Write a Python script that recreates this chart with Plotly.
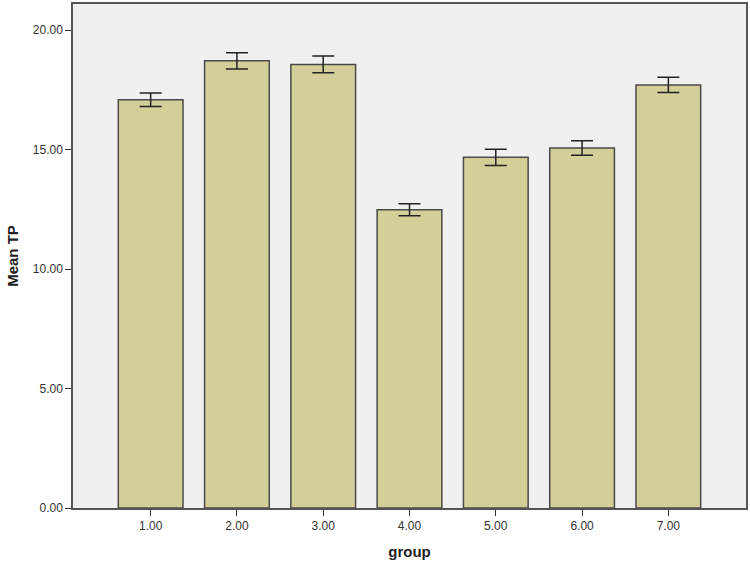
import plotly.graph_objects as go

groups = [1, 2, 3, 4, 5, 6, 7]
group_labels = ["1.00", "2.00", "3.00", "4.00", "5.00", "6.00", "7.00"]
mean_tp = [17.09, 18.72, 18.57, 12.49, 14.68, 15.07, 17.71]
err_tp = [0.28, 0.34, 0.35, 0.25, 0.34, 0.30, 0.32]

y_ticks = [0, 5, 10, 15, 20]
y_labels = ["0.00", "5.00", "10.00", "15.00", "20.00"]

fig = go.Figure()
fig.add_trace(go.Bar(
    x=groups, y=mean_tp, width=0.75,
    marker=dict(color='#d3cf98', line=dict(color='#4a4a4a', width=1.5)),
    error_y=dict(type='data', array=err_tp, visible=True,
                 color='#222222', thickness=1.5, width=11),
    showlegend=False, hoverinfo='skip'
))

fig.update_layout(
    width=750, height=567,
    margin=dict(l=73, r=3, t=2, b=59),
    paper_bgcolor='white', plot_bgcolor='#f0f0f0',
    font=dict(family='Arial, Liberation Sans, sans-serif', color='#333333', size=12),
    xaxis=dict(
        range=[0.1, 7.9], tickvals=groups, ticktext=group_labels,
        showgrid=False, zeroline=False,
        showline=True, linecolor='#555555', linewidth=1.5, mirror=True,
        ticks='outside', ticklen=6, tickcolor='#333333',
        title=dict(text='<b>group</b>', font=dict(size=15, color='#222222'), standoff=14),
    ),
    yaxis=dict(
        range=[0, 21.1], tickvals=y_ticks, ticktext=y_labels,
        showgrid=False, zeroline=False,
        showline=True, linecolor='#555555', linewidth=1.5, mirror=True,
        ticks='outside', ticklen=6, tickcolor='#333333',
        title=dict(text='<b>Mean TP</b>', font=dict(size=15, color='#222222'), standoff=11),
    ),
)

# page body has a default 8px margin that pushes the figure off-window
fig.write_html("out.html", config={'displayModeBar': False},
               post_script="document.body.style.margin='0';")
